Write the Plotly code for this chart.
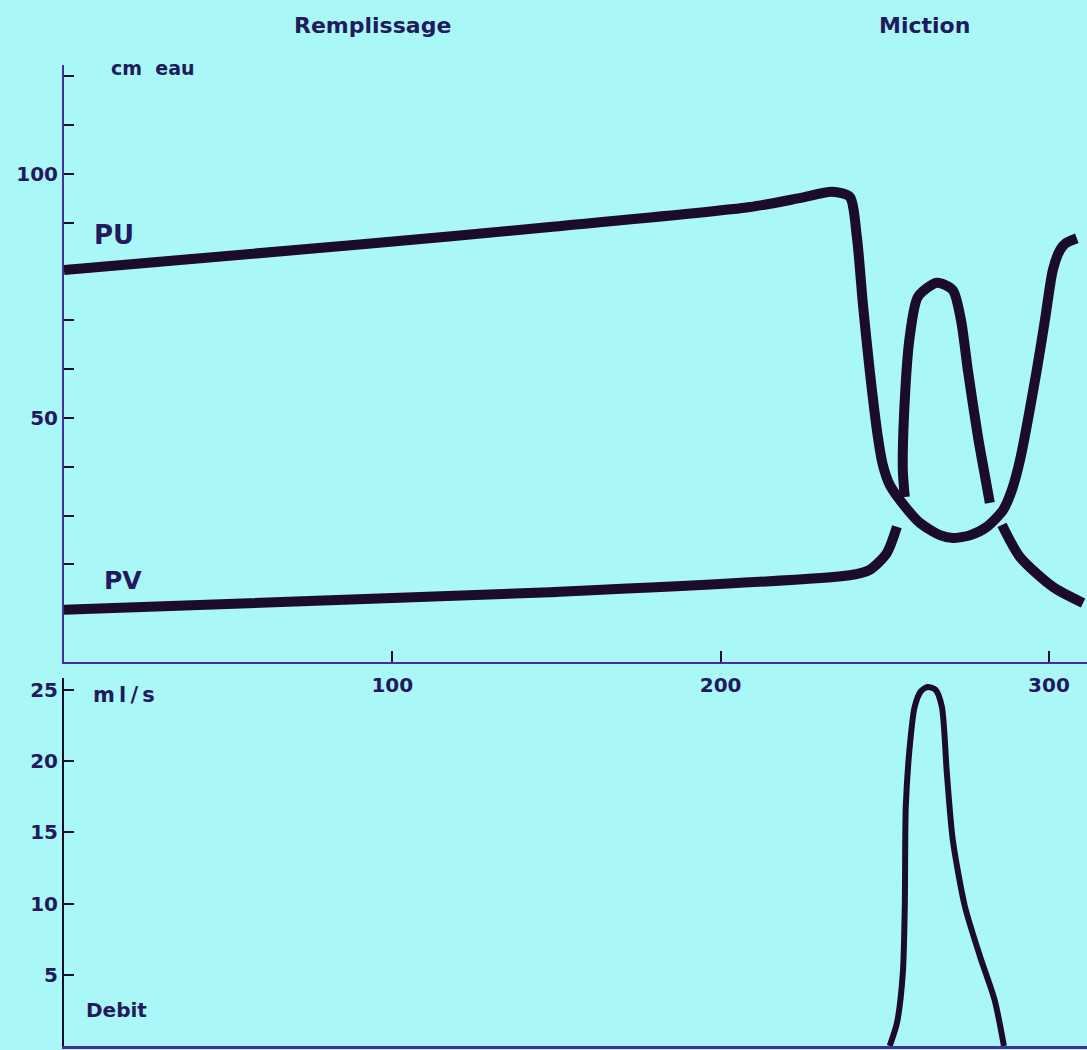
import plotly.graph_objects as go

# ---- data ----
pu_x = [0, 90, 148, 209, 224, 234, 239.3, 241.5, 243.3, 245.4, 247.9, 249.4, 251.5, 254.6,
        260.7, 266.8, 270.7, 276.0, 281.1, 286.0, 288.7, 291.2, 296.3, 298.8, 301.2, 303.4,
        305.2, 308.5]
pu_y = [80.3, 85.5, 89.1, 93.2, 95.0, 96.3, 95.3, 87.1, 73.6, 59.8, 46.1, 40.4, 36.3, 33.2,
        28.5, 26.0, 25.4, 26.0, 27.7, 31.1, 35.2, 41.4, 59.8, 70.1, 80.3, 84.4,
        85.8, 86.8]

pv_x = [0, 148, 239.3, 245.4, 250.6, 253.7, None,
        256.1, 255.5, 256.1, 257.6, 260.1, 265.9, 270.7, 273.2, 275.3, 278.4, 280.2, 282.0, None,
        285.7, 291.2, 301.2, 310.4]
pv_y = [10.7, 14.3, 17.8, 18.9, 22.3, 27.7, None,
        33.8, 39.3, 53.7, 66.6, 74.8, 77.7, 76.2, 70.1, 59.8, 46.1, 39.3, 32.6, None,
        28.1, 21.5, 15.4, 12.1]

debit_x = [251.5, 253.7, 255.5, 256.1, 256.4, 257.6, 259.1, 261.0, 263.1, 265.5, 267.4,
           268.9, 270.7, 274.4, 279.0, 283.5, 286.3]
debit_y = [0, 1.6, 5.1, 9.8, 16.8, 21.0, 23.8, 24.9, 25.2, 25.0, 23.8,
           19.2, 14.5, 9.8, 6.3, 3.2, 0]

x_ticks = [100, 200, 300]
p_ticks = [10, 20, 30, 40, 50, 60, 70, 80, 90, 100, 110, 120]
p_ticktext = ["", "", "", "", "50", "", "", "", "", "100", "", ""]
d_ticks = [5, 10, 15, 20, 25]

# ---- styling ----
BG = "#aaf7f7"
INK = "#1c0c2c"
TXT = "#221a5c"
AXIS = "#4a2c9e"
FONT = "DejaVu Sans"

fig = go.Figure()
line_style = dict(color=INK, width=10, shape="spline", smoothing=0.7)
fig.add_trace(go.Scatter(x=pu_x, y=pu_y, mode="lines", line=line_style,
                         xaxis="x", yaxis="y", name="PU", hoverinfo="skip"))
fig.add_trace(go.Scatter(x=pv_x, y=pv_y, mode="lines", line=line_style, connectgaps=False,
                         xaxis="x", yaxis="y", name="PV", hoverinfo="skip"))
fig.add_trace(go.Scatter(x=debit_x, y=debit_y, mode="lines",
                         line=dict(color=INK, width=6, shape="spline", smoothing=0.7),
                         xaxis="x2", yaxis="y2", name="Debit", hoverinfo="skip"))

tickfont = dict(family=FONT, size=20, color=TXT, weight="bold")
XR = [0, 311.6]

fig.update_layout(
    width=1087, height=1050,
    margin=dict(l=64, r=0, t=0, b=4),
    paper_bgcolor=BG, plot_bgcolor=BG,
    showlegend=False,
    xaxis=dict(domain=[0, 1], anchor="y", range=XR, showgrid=False, zeroline=False,
               showline=True, linecolor=AXIS, linewidth=2,
               ticks="inside", ticklen=11, tickwidth=2, tickcolor=INK,
               tickvals=x_ticks, tickfont=tickfont, ticklabelstandoff=4),
    yaxis=dict(domain=[0.367, 0.938], anchor="x", range=[0, 122.3], showgrid=False,
               zeroline=False, showline=True, linecolor=AXIS, linewidth=2,
               ticks="inside", ticklen=10, tickwidth=2, tickcolor=INK,
               tickvals=p_ticks, ticktext=p_ticktext, tickfont=tickfont),
    xaxis2=dict(domain=[0, 1], anchor="y2", range=XR, showgrid=False, zeroline=False,
                showline=True, linecolor=AXIS, linewidth=3, showticklabels=False, ticks=""),
    yaxis2=dict(domain=[0, 0.352], anchor="x2", range=[0, 25.84], showgrid=False,
                zeroline=False, showline=True, linecolor=INK, linewidth=2,
                ticks="inside", ticklen=10, tickwidth=2, tickcolor=INK,
                tickvals=d_ticks, tickfont=tickfont),
)

def label(text, x, y, xref, yref, size, xanchor="left", weight="bold"):
    fig.add_annotation(text=text, x=x, y=y, xref=xref, yref=yref, showarrow=False,
                       xanchor=xanchor, yanchor="middle",
                       font=dict(family=FONT, size=size, color=TXT, weight=weight))

label("Remplissage", 93.9, 0.976, "x", "paper", 22, xanchor="center")
label("Miction", 262, 0.976, "x", "paper", 22, xanchor="center")
label("cm  eau", 13.7, 121.7, "x", "y", 19)
label("PU", 8.5, 87.5, "x", "y", 26)
label("PV", 11.6, 16.8, "x", "y", 25)
label("m\u2009l\u2009/\u2009s", 8.2, 24.6, "x2", "y2", 21)
label("Debit", 6.1, 2.5, "x2", "y2", 20)

fig.write_html("out.html", config={"displayModeBar": False},
               post_script="document.body.style.margin='0';document.body.style.background='" + BG + "';")
